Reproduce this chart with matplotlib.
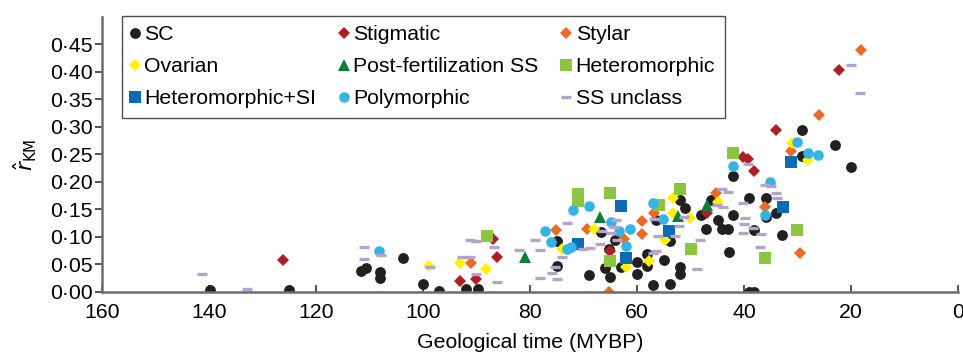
import matplotlib
matplotlib.use("Agg")
import matplotlib.pyplot as plt
from matplotlib.ticker import FuncFormatter

plt.rcParams["font.family"] = ["Liberation Sans", "DejaVu Sans"]

# values (x = MYBP, y = r_KM)
sc_x = [139.9, 125.0, 111.6, 110.7, 108.0, 108.0, 103.7, 100.0, 97.0, 92.0, 89.8,
        75.0, 75.0, 69.0, 66.7, 66.0, 65.0, 65.2, 64.1, 63.0, 60.1, 60.1, 58.1,
        58.1, 57.0, 55.0, 53.8, 56.4, 53.8, 52.0, 51.0, 52.0, 52.0, 48.1, 47.1,
        46.2, 44.9, 44.2, 43.1, 42.9, 42.0, 42.0, 39.1, 38.2, 36.0, 36.0, 34.0,
        33.0, 39.1, 38.2, 29.2, 29.2, 23.1, 20.1]
sc_y = [0.003, 0.003, 0.038, 0.043, 0.037, 0.025, 0.062, 0.015, 0.001, 0.006, 0.006,
        0.048, 0.092, 0.031, 0.109, 0.043, 0.028, 0.078, 0.095, 0.045, 0.054, 0.033,
        0.069, 0.047, 0.012, 0.058, 0.015, 0.131, 0.093, 0.167, 0.152, 0.045, 0.032,
        0.140, 0.114, 0.167, 0.131, 0.114, 0.114, 0.073, 0.140, 0.210, 0.170, 0.113,
        0.170, 0.137, 0.143, 0.104, 0.0, 0.0, 0.294, 0.247, 0.268, 0.228]

stig_x = [126.1, 93.2, 90.1, 87.0, 86.1, 65.0, 47.0, 40.2, 39.3, 38.1, 34.0, 22.2]
stig_y = [0.058, 0.019, 0.024, 0.096, 0.064, 0.075, 0.143, 0.246, 0.242, 0.219,
          0.294, 0.403]

styl_x = [91.0, 75.2, 69.4, 65.2, 62.4, 59.1, 59.1, 56.9, 45.2, 36.1, 31.3, 29.5,
          26.1, 18.2]
styl_y = [0.052, 0.113, 0.114, 0.0, 0.096, 0.129, 0.105, 0.143, 0.180, 0.155,
          0.256, 0.070, 0.322, 0.440]

ovar_x = [98.9, 93.1, 88.2, 74.1, 68.0, 62.1, 57.7, 54.8, 53.3, 53.3, 50.2, 44.9,
          31.1, 28.0]
ovar_y = [0.047, 0.052, 0.041, 0.078, 0.114, 0.046, 0.057, 0.094, 0.171, 0.144,
          0.134, 0.164, 0.270, 0.240]

post_x = [80.9, 66.9, 52.4, 46.9]
post_y = [0.064, 0.137, 0.138, 0.158]

het_x = [88.1, 71.0, 71.0, 65.0, 65.0, 56.0, 52.0, 50.0, 42.0, 36.1, 30.2]
het_y = [0.102, 0.178, 0.165, 0.180, 0.057, 0.158, 0.188, 0.078, 0.253, 0.062, 0.113]

hetsi_x = [71.0, 63.0, 62.1, 54.0, 32.8, 31.3]
hetsi_y = [0.088, 0.156, 0.061, 0.111, 0.155, 0.237]

poly_x = [108.2, 77.2, 76.1, 72.0, 69.0, 72.4, 73.1, 64.9, 63.3, 61.4, 62.1, 57.1,
          55.2, 42.0, 35.1, 36.1, 30.2, 28.0, 26.2]
poly_y = [0.075, 0.111, 0.091, 0.149, 0.156, 0.082, 0.078, 0.128, 0.110, 0.114,
          0.084, 0.161, 0.133, 0.229, 0.200, 0.140, 0.272, 0.252, 0.249]

ss_x = [141.4, 133.0, 111.0, 111.0, 107.9, 98.8, 91.2, 90.1, 86.7, 92.8, 91.2, 90.1,
        86.2, 82.0, 79.1, 78.1, 78.1, 75.9, 75.0, 73.1, 74.1, 75.3, 70.2, 68.9,
        66.9, 66.6, 63.8, 64.4, 63.9, 64.9, 56.9, 56.1, 56.4, 57.1, 52.9, 52.1,
        51.3, 48.2, 48.9, 45.0, 43.9, 44.2, 43.1, 40.2, 39.3, 39.8, 40.0, 40.2,
        38.3, 36.9, 37.0, 36.1, 35.0, 34.0, 33.9, 20.1, 18.3]
ss_y = [0.033, 0.005, 0.081, 0.059, 0.067, 0.045, 0.094, 0.093, 0.081, 0.063, 0.063,
        0.033, 0.018, 0.076, 0.094, 0.076, 0.025, 0.035, 0.023, 0.125, 0.063, 0.045,
        0.078, 0.079, 0.088, 0.111, 0.094, 0.118, 0.130, 0.107, 0.132, 0.102, 0.075,
        0.071, 0.102, 0.120, 0.137, 0.094, 0.041, 0.158, 0.154, 0.187, 0.182, 0.161,
        0.232, 0.134, 0.123, 0.108, 0.117, 0.105, 0.081, 0.194, 0.193, 0.180, 0.170,
        0.412, 0.361]

series = [
    ("SC", sc_x, sc_y, "o", 7.8, "#231f20"),
    ("Stigmatic", stig_x, stig_y, "D", 6.2, "#ad1f24"),
    ("Stylar", styl_x, styl_y, "D", 6.4, "#ec6a25"),
    ("Ovarian", ovar_x, ovar_y, "D", 6.4, "#fff200"),
    ("Post-fertilization SS", post_x, post_y, "^", 8.8, "#117d3c"),
    ("Heteromorphic", het_x, het_y, "s", 8.6, "#8cc640"),
    ("Heteromorphic+SI", hetsi_x, hetsi_y, "s", 8.6, "#0b6cb5"),
    ("Polymorphic", poly_x, poly_y, "o", 7.6, "#35b3e6"),
    ("SS unclass", ss_x, ss_y, "_", 7.2, "#b3a4cb"),
]

fig = plt.figure(figsize=(9.63, 3.53), dpi=100)
ax = fig.add_axes([0.106, 0.173, 0.889, 0.779])

handles = {}
for name, xs, ys, mk, ms, col in series:
    if mk == "_":
        (h,) = ax.plot(xs, ys, ls="none", marker=mk, ms=ms, mew=2.4, color=col,
                       label=name)
    else:
        (h,) = ax.plot(xs, ys, ls="none", marker=mk, ms=ms, mew=0, color=col,
                       label=name)
    handles[name] = h

ax.set_xlim(160, 0)
ax.set_ylim(0, 0.5)
ax.set_xticks(range(160, -1, -20))
ax.set_yticks([0.0, 0.05, 0.10, 0.15, 0.20, 0.25, 0.30, 0.35, 0.40, 0.45])
ax.yaxis.set_major_formatter(FuncFormatter(lambda v, p: f"{v:.2f}".replace(".", "\u00b7")))

for s in ["top", "right"]:
    ax.spines[s].set_visible(False)
for s in ["left", "bottom"]:
    ax.spines[s].set_color("#6d6d6d")
    ax.spines[s].set_linewidth(1.8)
ax.tick_params(axis="x", direction="in", length=5, width=1.2, color="#333333",
               labelsize=15.3, pad=8)
ax.tick_params(axis="y", direction="out", length=5, width=1.2, color="#333333",
               labelsize=15.3, pad=2)

ax.set_xlabel("Geological time (MYBP)", fontsize=15.3, labelpad=8)
ax.set_ylabel(r"$\hat{r}_{\mathrm{KM}}$", fontsize=15.5, labelpad=8)

order = ["SC", "Ovarian", "Heteromorphic+SI",
         "Stigmatic", "Post-fertilization SS", "Polymorphic",
         "Stylar", "Heteromorphic", "SS unclass"]
leg = ax.legend([handles[n] for n in order], order, ncol=3, loc="upper left",
                bbox_to_anchor=(0.023, 1.005), borderaxespad=0, fontsize=15.3,
                frameon=True, fancybox=False, handlelength=0.3, handletextpad=0.3,
                columnspacing=1.15, labelspacing=0.62, borderpad=0.45)
leg.get_frame().set_edgecolor("#222222")
leg.get_frame().set_linewidth(1.0)

fig.savefig("out.png", dpi=100)
